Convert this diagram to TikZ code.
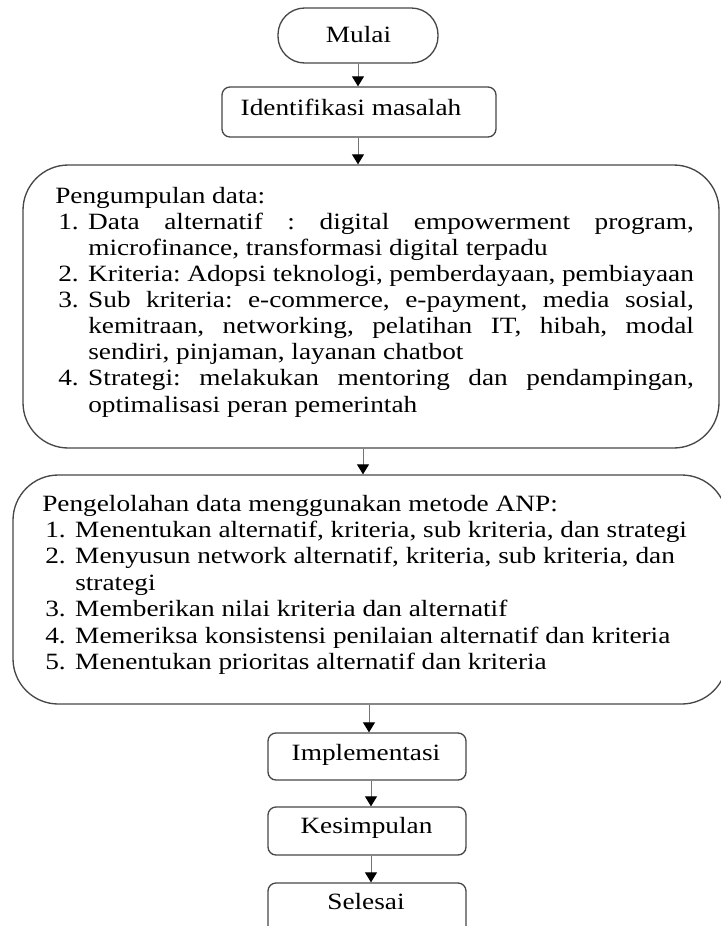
\documentclass[tikz,border=0pt]{standalone}
\usepackage{fontspec}
\setmainfont{Liberation Serif}[FakeStretch=1.17]
\usetikzlibrary{fit,arrows.meta}
\tikzset{
  box/.style={draw=black!72, line width=1pt, inner sep=0pt},
  arr/.style={draw=black!55, line width=0.75pt, -{Triangle[width=9pt,length=7.5pt,color=black]}},
  lbl/.style={font=\fontsize{17.5}{20}\selectfont, inner sep=0pt, anchor=base},
}
\newcommand{\myitem}[2]{\par\hangindent=24.75pt\hangafter=1\noindent\makebox[24.75pt][l]{\hspace{2.25pt}#1}#2}
\begin{document}
\frenchspacing
\begin{tikzpicture}[x=0.75pt,y=-0.75pt]
\useasboundingbox (0,0) rectangle (721,926);
\fill[white] (0,0) rectangle (721,926);
\clip (0,0) rectangle (721,926);
% boxes
\node[box, rounded corners=20pt, fit={(278,8) (438,63)}] (mulai) {};
\node[box, rounded corners=6pt, fit={(222,87) (496,137)}] (ident) {};
\node[box, rounded corners=34pt, fit={(23,165) (719,448)}] (b1) {};
\node[box, rounded corners=34pt, fit={(13,475) (727,704)}] (b2) {};
\node[box, rounded corners=6pt, fit={(268,733) (466,780)}] (impl) {};
\node[box, rounded corners=6pt, fit={(268,807) (466,855)}] (kes) {};
\node[box, rounded corners=6pt, fit={(268,883) (466,940)}] (sel) {};
% labels of the small boxes
\node[lbl] (mulait) at (358.5,42) {Mulai};
\node[lbl] (identt) at (351,115) {Identifikasi masalah};
\node[lbl] (implt) at (366,760) {Implementasi};
\node[lbl] (kest) at (366.5,833) {Kesimpulan};
\node[lbl] (selt) at (366,909) {Selesai};
% texts of the large boxes
\node[anchor=base west, inner sep=0pt, text width=479pt, align=justify,
      font=\fontsize{17.5}{19.6}\selectfont] (t1) at (55,203)
{Pengumpulan data:%
\myitem{1.}{Data alternatif : digital empowerment program,\linebreak microfinance, transformasi digital terpadu}%
\myitem{2.}{Kriteria: Adopsi teknologi, pemberdayaan, pembiayaan}%
\myitem{3.}{Sub kriteria: e-commerce, e-payment, media sosial,\linebreak kemitraan, networking, pelatihan IT, hibah, modal\linebreak sendiri, pinjaman, layanan chatbot}%
\myitem{4.}{Strategi: melakukan mentoring dan pendampingan,\linebreak optimalisasi peran pemerintah}\par};
\node[anchor=base west, inner sep=0pt, text width=510pt, align=flush left,
      font=\fontsize{17.5}{19.8}\selectfont] (t2) at (42,511)
{Pengelolahan data menggunakan metode ANP:%
\myitem{1.}{Menentukan alternatif, kriteria, sub kriteria, dan strategi}%
\myitem{2.}{Menyusun network alternatif, kriteria, sub kriteria, dan\linebreak strategi}%
\myitem{3.}{Memberikan nilai kriteria dan alternatif}%
\myitem{4.}{Memeriksa konsistensi penilaian alternatif dan kriteria}%
\myitem{5.}{Menentukan prioritas alternatif dan kriteria}\par};
% connectors
\coordinate (xa) at (358,0);
\coordinate (xb) at (363,0);
\coordinate (xc) at (369,0);
\coordinate (xd) at (371,0);
\draw[arr] (mulai.south -| xa) -- (ident.north -| xa);
\draw[arr] (ident.south -| xa) -- (b1.north -| xa);
\draw[arr] (b1.south -| xb) -- (b2.north -| xb);
\draw[arr] (b2.south -| xc) -- (impl.north -| xc);
\draw[arr] (impl.south -| xd) -- (kes.north -| xd);
\draw[arr] (kes.south -| xd) -- (sel.north -| xd);
\end{tikzpicture}
\end{document}
